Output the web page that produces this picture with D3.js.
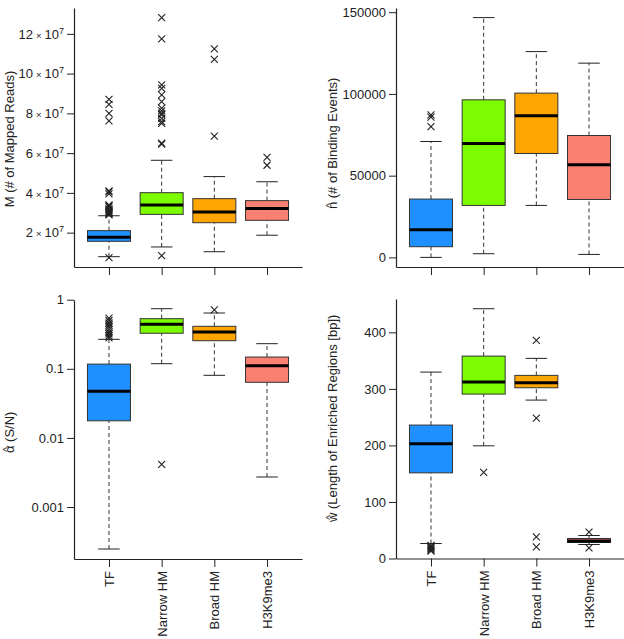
<!DOCTYPE html>
<html>
<head>
<meta charset="utf-8">
<script src="https://cdn.jsdelivr.net/npm/d3@7"></script>
<style>
  body { margin: 0; background: #fff; }
  svg { font-family: "Liberation Sans", Arial, sans-serif; }
  .axis path, .axis line { stroke: #222; }
  .axis text { fill: #222; font-size: 13px; }
</style>
</head>
<body>
<div id="chart"></div>
<script>
const categories = ["TF", "Narrow HM", "Broad HM", "H3K9me3"];
const colors = ["#1E90FF", "#7CFC00", "#FFA500", "#FA8072"];

// box stats: [lower whisker, Q1, median, Q3, upper whisker]
const readsBoxes = [
    [0.79e7, 1.565e7, 1.77e7, 2.10e7, 2.85e7],
    [1.28e7, 2.92e7, 3.39e7, 4.01e7, 5.64e7],
    [1.04e7, 2.50e7, 3.04e7, 3.71e7, 4.82e7],
    [1.87e7, 2.62e7, 3.21e7, 3.61e7, 4.56e7]
];
const readsOutliers = [
    [0.74e7, 2.9e7, 2.95e7, 3.0e7, 3.05e7, 3.1e7, 3.15e7, 3.2e7, 3.3e7, 3.35e7, 3.4e7,
     3.95e7, 4.05e7, 4.1e7, 7.62e7, 8.0e7, 8.45e7, 8.7e7],
    [0.84e7, 6.45e7, 6.5e7, 7.5e7, 7.58e7, 7.75e7, 7.92e7, 8.0e7, 8.12e7, 8.26e7,
     8.59e7, 8.93e7, 9.26e7, 9.43e7, 11.75e7, 12.82e7],
    [6.86e7, 10.72e7, 11.24e7],
    [5.39e7, 5.79e7]
];
const readsTicks = [2e7, 4e7, 6e7, 8e7, 10e7, 12e7];

const eventsBoxes = [
    [0, 6540, 16930, 35690, 70900],
    [2260, 31800, 69700, 96400, 146700],
    [31800, 63570, 86600, 100500, 125900],
    [1830, 35450, 56660, 74570, 118830]
];
const eventsOutliers = [
    [80070, 85810, 87220],
    [],
    [],
    []
];
const eventsTicks = [0, 50000, 100000, 150000];

const snBoxes = [
    [0.000247, 0.0177, 0.0472, 0.117, 0.267],
    [0.1186, 0.327, 0.44, 0.531, 0.741],
    [0.0805, 0.255, 0.341, 0.412, 0.642],
    [0.00272, 0.0638, 0.111, 0.148, 0.231]
];
const snOutliers = [
    [0.28, 0.30, 0.32, 0.34, 0.37, 0.40, 0.43, 0.46, 0.50, 0.54],
    [0.00415],
    [0.71],
    []
];
const snTicks = [0.001, 0.01, 0.1, 1];

const lengthBoxes = [
    [26.5, 151.5, 202.8, 236, 329.7],
    [199.3, 290.8, 312, 358, 441.8],
    [280.2, 302, 310.8, 323.9, 354],
    [24.8, 28.3, 31, 35.4, 40.7]
];
const lengthOutliers = [
    [13, 15, 17, 19, 21, 23],
    [152.2],
    [20.5, 38.2, 248.3, 385.8],
    [18.8, 46.5]
];
const lengthTicks = [0, 100, 200, 300, 400];

const width = 624, height = 639;
const plotW = 228;
const boxW = 43;

const svg = d3.select("#chart")
    .append("svg")
    .attr("width", width)
    .attr("height", height);

// rotated axis title, optionally with a hat over the first letter
function yLabel(gr, px, py, base, rest, hat) {
    const t = gr.append("text")
        .attr("transform", `translate(${px},${py}) rotate(-90)`)
        .attr("font-size", 13)
        .attr("fill", "#222");
    const b = t.append("tspan").text(base);
    if (!hat) {
        b.text(base + rest);
    } else {
        const bw = b.node().getComputedTextLength();
        const h = t.append("tspan").attr("font-size", 10).text("^");
        const hw = h.node().getComputedTextLength();
        const back = -bw + (bw - hw) / 2;
        h.attr("dx", back).attr("dy", -3.5);
        t.append("tspan")
            .attr("dx", bw - hw + (-(bw - hw) / 2) )
            .attr("dy", 3.5)
            .text(rest);
    }
    const len = t.node().getComputedTextLength();
    t.attr("x", -len / 2);
}

function drawPanel(p) {
    const gr = svg.append("g");

    const x = d3.scalePoint()
        .domain(categories)
        .range([p.x0, p.x0 + plotW])
        .padding(0.664);

    const y = p.y;

    // axes
    const yAxis = d3.axisLeft(y)
        .tickValues(p.ticks)
        .tickSize(7)
        .tickPadding(3)
        .tickSizeOuter(0)
        .tickFormat(p.format || (d => d));

    const yAxGr = gr.append("g")
        .attr("class", "axis")
        .attr("transform", `translate(${p.x0},0)`)
        .call(yAxis);
    yAxGr.select(".domain").attr("stroke-width", 1.2);

    if (p.sci) {
        yAxGr.selectAll(".tick text").each(function(d) {
            const t = d3.select(this).text(null);
            t.append("tspan").text(d / 1e7);
            t.append("tspan").attr("font-size", 9.5).attr("dx", 3).text("\u00d7");
            t.append("tspan").attr("dx", 3).text("10");
            t.append("tspan").attr("font-size", 9).attr("dy", -5).text("7");
        });
    }

    const yBottom = y.range()[0];
    const xAxis = d3.axisBottom(x)
        .tickSize(8)
        .tickSizeOuter(0);

    const xAxGr = gr.append("g")
        .attr("class", "axis")
        .attr("transform", `translate(0,${yBottom})`)
        .call(xAxis);
    xAxGr.select(".domain").attr("stroke-width", 1.2);

    if (p.names) {
        xAxGr.selectAll(".tick text")
            .attr("transform", "rotate(-90)")
            .attr("x", -12)
            .attr("y", 0)
            .attr("dy", "0.35em")
            .attr("text-anchor", "end");
    } else {
        xAxGr.selectAll(".tick text").remove();
    }

    yLabel(gr, p.labelX, p.labelY, p.labelBase, p.labelRest, p.hat);

    // boxes
    const bx = gr.selectAll(".bx")
        .data(p.boxes)
        .enter()
        .append("g")
        .attr("class", "bx");

    // whiskers
    bx.append("line")
        .attr("x1", (d, i) => x(categories[i]))
        .attr("x2", (d, i) => x(categories[i]))
        .attr("y1", d => y(d[0]))
        .attr("y2", d => y(d[1]))
        .attr("stroke", "#333")
        .attr("stroke-dasharray", "4,3");
    bx.append("line")
        .attr("x1", (d, i) => x(categories[i]))
        .attr("x2", (d, i) => x(categories[i]))
        .attr("y1", d => y(d[3]))
        .attr("y2", d => y(d[4]))
        .attr("stroke", "#333")
        .attr("stroke-dasharray", "4,3");
    [0, 4].forEach(k => {
        bx.append("line")
            .attr("x1", (d, i) => x(categories[i]) - boxW / 4)
            .attr("x2", (d, i) => x(categories[i]) + boxW / 4)
            .attr("y1", d => y(d[k]))
            .attr("y2", d => y(d[k]))
            .attr("stroke", "#222");
    });

    bx.append("rect")
        .attr("x", (d, i) => x(categories[i]) - boxW / 2)
        .attr("width", boxW)
        .attr("y", d => y(d[3]))
        .attr("height", d => y(d[1]) - y(d[3]))
        .attr("fill", (d, i) => colors[i])
        .attr("stroke", "#333")
        .attr("stroke-width", 1);

    bx.append("line")
        .attr("x1", (d, i) => x(categories[i]) - boxW / 2)
        .attr("x2", (d, i) => x(categories[i]) + boxW / 2)
        .attr("y1", d => y(d[2]))
        .attr("y2", d => y(d[2]))
        .attr("stroke", "#000")
        .attr("stroke-width", 3);

    // outliers
    const pts = [];
    p.outliers.forEach((arr, i) => arr.forEach(v => pts.push({c: categories[i], v})));
    gr.selectAll(".out")
        .data(pts)
        .enter()
        .append("path")
        .attr("class", "out")
        .attr("transform", d => `translate(${x(d.c)},${y(d.v)})`)
        .attr("d", "M-3.5,-3.5L3.5,3.5M-3.5,3.5L3.5,-3.5")
        .attr("stroke", "#222")
        .attr("stroke-width", 1.1)
        .attr("fill", "none");
}

drawPanel({
    x0: 74,
    y: d3.scaleLinear().domain([0.272e7, 13.3e7]).range([267, 8]),
    ticks: readsTicks,
    sci: true,
    boxes: readsBoxes,
    outliers: readsOutliers,
    labelBase: "M", labelRest: " (# of Mapped Reads)", hat: false,
    labelX: 14, labelY: 139,
    names: false
});

drawPanel({
    x0: 396,
    y: d3.scaleLinear().domain([-5870, 152570]).range([267, 8]),
    ticks: eventsTicks,
    boxes: eventsBoxes,
    outliers: eventsOutliers,
    labelBase: "n", labelRest: " (# of Binding Events)", hat: true,
    labelX: 337, labelY: 141,
    names: false
});

drawPanel({
    x0: 74,
    y: d3.scaleLog().domain([Math.pow(10, -3.752), 1]).range([559, 299.7]),
    ticks: snTicks,
    format: d => String(d),
    boxes: snBoxes,
    outliers: snOutliers,
    labelBase: "\u03b1", labelRest: " (S/N)", hat: true,
    labelX: 14, labelY: 430,
    names: true
});

drawPanel({
    x0: 396,
    y: d3.scaleLinear().domain([0, 459]).range([558.5, 299]),
    ticks: lengthTicks,
    boxes: lengthBoxes,
    outliers: lengthOutliers,
    labelBase: "w", labelRest: " (Length of Enriched Regions [bp])", hat: true,
    labelX: 337, labelY: 416,
    names: true
});
</script>
</body>
</html>
